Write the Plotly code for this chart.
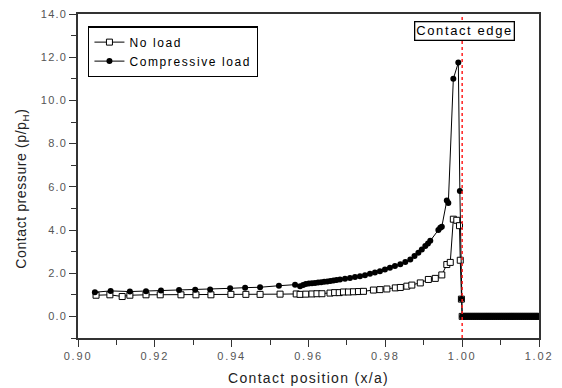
import plotly.graph_objects as go

# ---- data ----
zero_x = [1.0000, 1.0005, 1.0010, 1.0015, 1.0020, 1.0025, 1.0030, 1.0035, 1.0040, 1.0045,
          1.0050, 1.0055, 1.0060, 1.0065, 1.0070, 1.0075, 1.0080, 1.0085, 1.0090, 1.0095,
          1.0100, 1.0105, 1.0110, 1.0115, 1.0120, 1.0125, 1.0130, 1.0135, 1.0140, 1.0145,
          1.0150, 1.0155, 1.0160, 1.0165, 1.0170, 1.0175, 1.0180, 1.0185, 1.0190, 1.0195,
          1.0200]
zero_y = [0.0] * len(zero_x)

noload_x = [0.9047, 0.9083, 0.9115, 0.9135, 0.9177, 0.9214, 0.9268, 0.9307, 0.9346, 0.9398,
            0.9437, 0.9474, 0.9526, 0.9568, 0.9578, 0.9593, 0.9609, 0.9622, 0.9635, 0.9656,
            0.9668, 0.9680, 0.9691, 0.9704, 0.9717, 0.9730, 0.9743, 0.9769, 0.9786, 0.9804,
            0.9826, 0.9839, 0.9856, 0.9869, 0.9891, 0.9912, 0.9930, 0.9947, 0.9960, 0.9969,
            0.9977, 0.9986, 0.9993, 0.9995, 0.9998]
noload_y = [0.98, 1.00, 0.92, 0.98, 1.00, 1.00, 1.00, 1.00, 1.00, 1.02,
            1.02, 1.02, 1.03, 1.04, 1.02, 1.03, 1.04, 1.05, 1.05, 1.08,
            1.10, 1.10, 1.13, 1.13, 1.14, 1.15, 1.16, 1.22, 1.24, 1.27,
            1.32, 1.34, 1.40, 1.45, 1.55, 1.71, 1.76, 1.92, 2.40, 2.50,
            4.50, 4.45, 4.20, 2.60, 0.80]

comp_x = [0.9044, 0.9085, 0.9135, 0.9177, 0.9216, 0.9263, 0.9305, 0.9344, 0.9396, 0.9435,
          0.9474, 0.9523, 0.9565, 0.9578, 0.9586, 0.9593, 0.9601, 0.9609, 0.9617, 0.9625,
          0.9633, 0.9641, 0.9649, 0.9657, 0.9665, 0.9673, 0.9682, 0.9695, 0.9708, 0.9721,
          0.9734, 0.9747, 0.9760, 0.9773, 0.9786, 0.9799, 0.9812, 0.9825, 0.9839, 0.9852,
          0.9865, 0.9876, 0.9886, 0.9895, 0.9904, 0.9911, 0.9917, 0.9938, 0.9943, 0.9947,
          0.9960, 0.9964, 0.9977, 0.9990, 0.9994, 0.9998]
comp_y = [1.12, 1.18, 1.15, 1.17, 1.20, 1.22, 1.23, 1.25, 1.30, 1.33,
          1.35, 1.42, 1.47, 1.40, 1.45, 1.50, 1.52, 1.53, 1.55, 1.57,
          1.58, 1.60, 1.62, 1.64, 1.66, 1.68, 1.71, 1.74, 1.78, 1.82,
          1.86, 1.91, 1.97, 2.03, 2.09, 2.17, 2.25, 2.33, 2.41, 2.52,
          2.64, 2.80, 2.95, 3.10, 3.26, 3.38, 3.50, 4.00, 4.10, 4.15,
          5.36, 5.25, 11.00, 11.75, 5.80, 0.80]

y_ticks = [0, 2, 4, 6, 8, 10, 12, 14]
y_tick_labels = ["0.0", "2.0", "4.0", "6.0", "8.0", "10.0", "12.0", "14.0"]
x_ticks = [0.90, 0.92, 0.94, 0.96, 0.98, 1.00, 1.02]
x_tick_labels = ["0.90", "0.92", "0.94", "0.96", "0.98", "1.00", "1.02"]

edge_x = 1.0

FONT = "Liberation Sans, Arial"


def spaced(t, ls):
    return '<span style="letter-spacing:%spx">%s</span>' % (ls, t)


fig = go.Figure()
fig.add_trace(go.Scatter(
    x=noload_x + zero_x, y=noload_y + zero_y, mode="lines+markers",
    name=spaced("No load", 1.6),
    line=dict(color="black", width=1),
    marker=dict(symbol="square", size=6, color="white", line=dict(color="black", width=1)),
))
fig.add_trace(go.Scatter(
    x=comp_x + zero_x, y=comp_y + zero_y, mode="lines+markers",
    name=spaced("Compressive load", 1.6),
    line=dict(color="black", width=1),
    marker=dict(symbol="circle", size=6, color="black"),
))

fig.add_shape(type="line", xref="x", yref="paper", x0=edge_x, x1=edge_x, y0=0, y1=1,
              line=dict(color="#ff2020", width=1.5, dash="dot"), layer="above")

fig.add_annotation(x=1.0005, y=13.2, xref="x", yref="y", text=spaced("Contact edge", 1.6),
                   showarrow=False, font=dict(family=FONT, size=13, color="black"),
                   bgcolor="white", bordercolor="black", borderwidth=1.3, borderpad=1)

fig.add_annotation(xref="paper", yref="paper", x=-0.122, y=0.46, xanchor="center", yanchor="middle",
                   text=spaced("Contact pressure (p/p<sub>H</sub>)", 0.6), textangle=-90,
                   showarrow=False, font=dict(family=FONT, size=14, color="#222"))

tick_font = dict(family=FONT, size=11, color="#555")
fig.update_layout(
    width=562, height=388,
    margin=dict(l=78, r=23, t=14, b=50),
    paper_bgcolor="white", plot_bgcolor="white",
    showlegend=True,
    legend=dict(x=0.022, y=0.962, xanchor="left", yanchor="top",
                bordercolor="black", borderwidth=1.3, bgcolor="white",
                font=dict(family=FONT, size=12, color="black"),
                tracegroupgap=0, itemwidth=30),
    font=dict(family=FONT),
)
fig.update_xaxes(
    range=[0.90, 1.02], tickvals=x_ticks, ticktext=[spaced(t, 1.8) for t in x_tick_labels],
    automargin=False,
    showgrid=False, zeroline=False, showline=True, linecolor="#333", linewidth=1.5, mirror=True,
    ticks="outside", ticklen=7, tickcolor="#333", tickwidth=1.2,
    minor=dict(dtick=0.01, ticks="outside", ticklen=5, tickcolor="#333", tickwidth=1.2, showgrid=False),
    tickfont=tick_font,
    title=dict(text=spaced("Contact position (x/a)", 1.3),
               font=dict(family=FONT, size=14, color="#222"), standoff=12),
)
fig.update_yaxes(
    range=[-1, 14], tickvals=y_ticks, ticktext=[spaced(t, 1.2) for t in y_tick_labels],
    automargin=False,
    showgrid=False, zeroline=False, showline=True, linecolor="#333", linewidth=1.5, mirror=True,
    ticks="outside", ticklen=7, tickcolor="#333", tickwidth=1.2,
    minor=dict(tickvals=[-1, 1, 3, 5, 7, 9, 11, 13], ticks="outside", ticklen=5, tickcolor="#333", tickwidth=1.2, showgrid=False),
    tickfont=tick_font,
)

fig.write_html("out.html")
